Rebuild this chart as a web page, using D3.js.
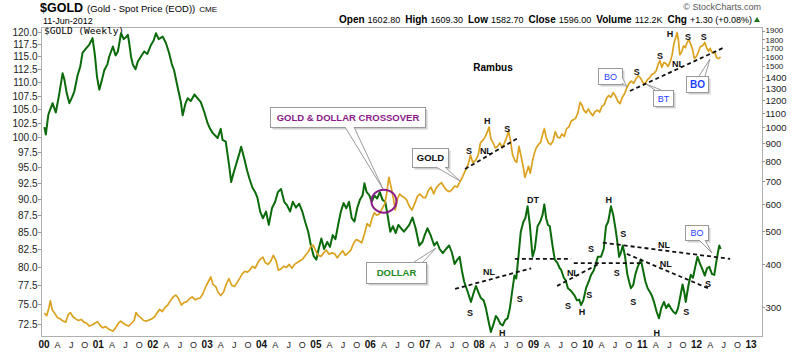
<!DOCTYPE html>
<html>
<head>
<meta charset="utf-8">
<script src="https://cdn.jsdelivr.net/npm/d3@7"></script>
<style>
  body { margin: 0; background: #fff; }
  svg { display: block; font-family: "Liberation Sans", Arial, sans-serif; }
</style>
</head>
<body>
<script>
// ---- data: months since Jan 2000, weekly-ish readings ----
var dollarMonths = [0.1,0.4,0.95,1.4,1.9,2.6,3.3,4.1,4.5,5.0,5.6,6.2,6.7,7.4,8.0,8.5,9.2,10.0,10.7,11.2,11.7,
  12.2,12.8,13.3,14.0,14.4,15.2,15.8,16.3,17.0,17.6,18.2,18.5,18.8,19.2,19.6,20.2,20.7,21.4,22.1,22.8,23.6,
  24.2,24.7,25.3,26.2,26.9,27.6,28.2,28.7,29.5,30.2,30.6,31.2,31.7,32.4,33.2,33.9,34.6,35.4,
  36.1,36.6,37.2,38.3,39.0,39.4,40.1,40.9,41.3,41.8,42.4,43.0,43.5,44.2,44.8,45.3,46.0,46.6,47.1,47.7,
  48.3,49.0,49.6,50.3,51.0,51.6,52.3,53.0,53.6,54.3,54.9,55.6,56.3,57.0,57.6,58.3,58.9,59.5,
  60.1,60.6,61.2,61.8,62.5,63.1,63.7,64.3,64.9,65.5,66.1,66.7,67.3,67.9,68.5,69.1,69.7,70.3,70.7,71.2,71.8,
  72.3,72.9,73.5,74.1,74.7,75.3,75.8,76.4,77.0,77.6,78.2,78.8,79.4,80.0,80.6,81.3,82.0,82.8,83.5,
  84.0,84.6,85.3,86.1,86.7,87.3,88.0,88.7,89.4,90.0,90.6,91.2,91.7,92.2,92.7,93.1,93.5,94.2,94.8,95.3,95.9,
  96.4,97.0,97.5,98.1,98.6,99.2,99.7,100.1,100.7,101.2,101.8,102.3,102.8,103.4,103.8,104.2,104.7,105.2,105.8,106.2,106.7,107.2,107.8,108.3,
  108.9,109.5,110.0,110.4,110.8,111.2,111.6,112.2,112.7,113.3,113.8,114.1,114.7,115.1,115.6,116.2,117.0,117.6,118.1,118.5,119.0,119.6,
  120.2,120.7,121.3,121.8,122.2,122.9,123.5,124.0,124.5,125.1,125.6,126.2,126.6,126.9,127.3,127.7,128.2,128.7,129.1,129.5,130.0,130.5,131.0,131.7,
  132.2,132.7,133.2,133.8,134.2,134.6,135.2,135.7,136.2,136.8,137.3,137.8,138.3,138.9,139.4,139.9,140.4,140.9,141.3,141.6,142.2,142.7,143.2,143.7,
  144.2,144.7,145.3,145.8,146.3,146.8,147.4,147.9,148.3,148.7,149.0,149.3];
var dollarValues = [101.8,100.5,104.0,105.0,106.1,104.4,107.5,111.7,110.5,108.0,106.1,107.2,108.3,111.3,113.0,115.7,116.5,117.4,118.7,115.5,111.0,
  108.6,110.5,112.3,113.5,115.0,117.0,115.2,116.0,119.7,118.5,119.0,119.4,117.7,115.0,113.4,112.5,114.0,115.0,116.0,115.5,117.3,
  118.2,119.7,118.5,119.0,117.7,115.7,113.5,112.3,109.0,106.3,103.9,106.0,107.0,106.5,107.7,107.0,106.3,104.4,
  102.5,101.6,100.8,99.9,101.5,99.6,99.3,95.0,92.6,94.0,95.5,97.0,98.4,96.4,94.5,93.2,91.7,91.0,90.1,88.0,
  87.0,88.0,86.0,88.5,89.5,91.0,91.5,89.5,89.0,88.0,89.5,88.6,89.2,88.0,86.5,85.0,83.0,81.5,
  81.0,82.5,84.0,82.5,83.5,82.8,84.5,83.9,86.0,88.0,89.3,88.5,89.5,87.0,86.5,88.5,89.8,90.5,92.4,91.0,90.5,
  89.5,90.5,90.0,91.0,89.8,89.5,87.5,85.0,85.8,84.8,86.0,85.5,85.0,85.5,86.0,87.1,85.5,83.0,83.5,
  84.5,85.5,84.5,83.0,83.5,82.5,81.9,82.5,83.0,82.0,80.4,81.0,81.4,79.5,78.0,77.3,76.6,75.3,76.5,77.4,76.5,
  75.8,75.5,74.5,72.8,71.5,72.5,73.5,73.2,72.5,72.3,73.0,73.2,74.5,77.1,78.8,78.4,81.5,85.0,86.5,87.0,88.8,86.0,81.4,82.5,
  85.8,86.5,87.5,89.1,87.0,86.0,85.8,83.0,81.0,80.5,79.8,79.6,78.5,78.2,77.1,76.8,76.2,75.5,75.6,74.9,75.5,77.1,
  78.0,78.9,79.5,80.5,81.4,81.4,82.5,85.8,86.5,88.8,87.5,85.0,83.0,81.4,82.0,83.0,81.5,79.0,78.0,77.1,77.5,79.0,80.0,81.0,
  79.5,78.0,77.1,76.5,76.0,75.3,74.0,73.2,74.5,75.3,74.5,75.0,74.5,74.0,73.8,74.5,76.0,77.6,76.5,75.3,77.5,78.9,78.5,80.0,
  81.4,80.5,79.6,78.8,79.8,80.0,79.0,78.9,80.5,82.0,83.0,82.5];

var goldMonths = [0.1,0.6,1.1,1.4,1.8,2.4,3.0,3.6,4.2,4.8,5.3,5.8,6.4,7.0,7.6,8.2,8.8,9.4,10.0,10.6,11.2,11.8,
  12.4,13.0,13.6,14.2,14.7,15.2,15.8,16.4,16.9,17.5,18.1,18.7,19.3,19.9,20.3,20.8,21.4,22.0,22.6,23.2,23.8,
  24.4,25.0,25.5,26.1,26.7,27.3,27.9,28.5,29.1,29.7,30.3,30.9,31.5,32.1,32.7,33.3,33.9,34.5,35.1,35.7,
  36.2,36.8,37.3,37.9,38.4,39.0,39.6,40.2,40.8,41.4,42.0,42.6,43.2,43.7,44.3,44.9,45.4,46.0,46.6,47.2,47.8,
  48.3,48.8,49.4,50.0,50.6,51.2,51.7,52.3,52.9,53.5,54.1,54.7,55.3,55.9,56.5,57.1,57.7,58.3,58.9,59.4,59.9,
  60.5,61.1,61.7,62.3,62.9,63.5,64.1,64.7,65.3,65.9,66.5,67.1,67.7,68.3,68.9,69.5,70.1,70.7,71.3,71.9,
  72.4,72.9,73.4,74.0,74.6,75.2,75.6,76.1,76.6,77.1,77.5,78.0,78.5,79.0,79.5,80.0,80.6,81.2,81.8,82.4,83.0,83.6,
  84.2,84.8,85.4,86.0,86.5,87.1,87.7,88.3,88.9,89.5,90.1,90.6,91.2,91.8,92.4,93.0,93.6,94.1,94.6,95.2,95.8,
  96.3,96.8,97.4,97.9,98.2,98.6,99.1,99.6,100.1,100.6,101.1,101.6,102.1,102.5,102.9,103.4,103.9,104.3,104.8,105.3,105.8,106.1,106.5,106.9,107.3,107.8,108.2,108.6,
  109.1,109.6,110.0,110.4,110.8,111.3,111.8,112.3,112.8,113.3,113.8,114.3,114.8,115.3,115.8,116.3,116.8,117.3,117.8,118.3,118.7,119.1,119.6,
  120.1,120.6,121.1,121.6,122.1,122.6,123.1,123.6,124.1,124.6,125.1,125.6,126.1,126.6,127.1,127.6,128.1,128.6,129.1,129.6,130.1,130.6,131.1,131.6,
  132.1,132.6,133.1,133.6,134.1,134.6,135.1,135.5,135.9,136.3,136.8,137.2,137.7,138.2,138.6,139.0,139.4,139.7,140.0,140.3,140.7,141.1,141.5,141.9,142.3,142.7,143.1,143.5,
  143.9,144.3,144.8,145.3,145.8,146.2,146.6,147.0,147.5,148.0,148.4,148.8,149.3];
var goldValues = [289,284,300,314,296,288,280,278,274,272,285,290,282,278,275,277,272,270,265,267,270,273,
  266,262,264,260,258,256,262,270,274,270,267,265,270,275,290,284,280,275,274,276,278,
  282,290,296,292,300,305,314,322,326,318,305,310,312,318,322,316,318,320,330,345,
  355,368,350,345,332,325,332,350,364,348,345,354,365,375,382,380,385,395,390,405,415,
  420,405,400,408,425,410,385,388,395,392,400,390,400,405,410,415,425,435,452,455,440,
  425,422,432,440,428,432,430,418,428,438,425,432,440,460,472,468,462,490,525,515,
  545,565,555,560,580,600,640,715,670,620,575,620,640,630,625,615,590,575,600,630,640,625,
  625,655,670,640,665,680,690,670,655,650,660,675,670,695,720,750,780,830,790,800,830,
  900,915,940,975,1000,925,900,870,880,900,870,900,935,975,920,830,800,790,880,820,760,715,740,770,735,800,840,870,
  890,905,950,990,935,900,890,910,970,935,930,955,940,990,1000,1040,1050,1060,1100,1180,1160,1120,1100,
  1130,1100,1080,1110,1120,1105,1150,1160,1210,1235,1220,1260,1230,1190,1170,1220,1250,1300,1340,1360,1340,1380,1410,1390,
  1350,1330,1370,1390,1420,1430,1460,1520,1560,1490,1540,1530,1500,1550,1620,1750,1820,1880,1780,1620,1650,1720,1700,1760,1790,1740,1680,1580,
  1600,1640,1710,1720,1760,1700,1660,1690,1640,1650,1590,1580,1596];

var dollarTicks = [72.5,75,77.5,80,82.5,85,87.5,90,92.5,95,97.5,100,102.5,105,107.5,110,112.5,115,117.5,120];
var goldTicks = [300,400,500,600,700,800,900,1000,1100,1200,1300,1400,1500,1600,1700,1800,1900];
var yearLabels = ["00","01","02","03","04","05","06","07","08","09","10","11","12","13"];
var quarterLabels = ["A","J","O"];

// chart annotations (month, value) on the series' own axis
var trendLines = [
  {axis: "gold",   m1: 92.9,  v1: 756,  m2: 104.6, v2: 930},
  {axis: "gold",   m1: 129.3, v1: 1273, m2: 149.8, v2: 1696},
  {axis: "dollar", m1: 90.7,  v1: 77.0, m2: 107.5, v2: 79.8},
  {axis: "dollar", m1: 103.9, v1: 81.1, m2: 116.3, v2: 81.1},
  {axis: "dollar", m1: 113.2, v1: 77.4, m2: 122.7, v2: 80.5},
  {axis: "dollar", m1: 116.9, v1: 80.5, m2: 132.1, v2: 80.5},
  {axis: "dollar", m1: 123.3, v1: 83.4, m2: 151.4, v2: 81.1},
  {axis: "dollar", m1: 128.6, v1: 81.8, m2: 146.9, v2: 77.0}
];
var patternLabels = [
  {axis: "gold", m: 93.8, v: 853, t: "S"}, {axis: "gold", m: 97.8, v: 1042, t: "H"},
  {axis: "gold", m: 102.2, v: 988, t: "S"}, {axis: "gold", m: 97.5, v: 853, t: "NL"},
  {axis: "gold", m: 138.1, v: 1862, t: "H"}, {axis: "gold", m: 142.1, v: 1837, t: "S"},
  {axis: "gold", m: 145.6, v: 1837, t: "S"}, {axis: "gold", m: 135.9, v: 1608, t: "S"},
  {axis: "gold", m: 130.8, v: 1454, t: "S"}, {axis: "gold", m: 139.9, v: 1534, t: "NL"},
  {axis: "dollar", m: 107.9, v: 89.8, t: "DT"}, {axis: "dollar", m: 98.2, v: 79.3, t: "NL"},
  {axis: "dollar", m: 94.0, v: 74.0, t: "S"}, {axis: "dollar", m: 105.0, v: 75.7, t: "S"},
  {axis: "dollar", m: 101.1, v: 71.4, t: "H"}, {axis: "dollar", m: 124.6, v: 89.8, t: "H"},
  {axis: "dollar", m: 127.8, v: 84.7, t: "S"}, {axis: "dollar", m: 120.7, v: 82.6, t: "S"},
  {axis: "dollar", m: 116.7, v: 79.2, t: "NL"}, {axis: "dollar", m: 136.8, v: 83.2, t: "NL"},
  {axis: "dollar", m: 137.2, v: 80.4, t: "NL"}, {axis: "dollar", m: 115.6, v: 74.9, t: "S"},
  {axis: "dollar", m: 118.7, v: 74.1, t: "H"}, {axis: "dollar", m: 120.3, v: 76.3, t: "S"},
  {axis: "dollar", m: 126.4, v: 79.2, t: "S"}, {axis: "dollar", m: 130.0, v: 75.4, t: "S"},
  {axis: "dollar", m: 141.7, v: 74.1, t: "S"}, {axis: "dollar", m: 146.5, v: 77.7, t: "S"},
  {axis: "dollar", m: 135.2, v: 71.4, t: "H"}
];

var width = 800, height = 352;
var plot = {left: 41, right: 762, top: 27, bottom: 336};

var svg = d3.select("body").append("svg")
  .attr("width", width)
  .attr("height", height);

var x = d3.scaleLinear().domain([0, 156]).range([44, 751]);
var yDollar = d3.scaleLog().domain([71.0, 121.0]).range([336, 27]);
var yGold = d3.scaleLog().domain([248, 1951]).range([336, 27]);
function yOf(axis) { return axis == "gold" ? yGold : yDollar; }

// header
var head = svg.append("text").attr("x", 40).attr("y", 12);
head.append("tspan").attr("font-weight", "bold").attr("font-size", "12.5px").text("$GOLD");
head.append("tspan").attr("font-size", "9.5px").attr("dx", 4).text("(Gold - Spot Price (EOD))");
head.append("tspan").attr("font-size", "8px").attr("dx", 4).text("CME");

svg.append("text").attr("x", 43).attr("y", 24).attr("font-size", "9px").text("11-Jun-2012");

svg.append("text").attr("x", 761).attr("y", 10).attr("text-anchor", "end")
  .attr("font-size", "9px").attr("fill", "#555").text("\u00A9 StockCharts.com");

var quote = [["Open", "1602.80"], ["High", "1609.30"], ["Low", "1582.70"], ["Close", "1596.00"],
             ["Volume", "112.2K"], ["Chg", "+1.30 (+0.08%)"]];
var qt = svg.append("text").attr("x", 752).attr("y", 23).attr("text-anchor", "end");
quote.forEach(function (q, i) {
  qt.append("tspan").attr("font-weight", "bold").attr("font-size", "10px")
    .attr("dx", i == 0 ? 0 : 5).text(q[0]);
  qt.append("tspan").attr("font-size", "9px").attr("dx", 3).text(q[1]);
});
svg.append("path").attr("d", "M754,22 L760,22 L757,17 Z").attr("fill", "#1a7a1a");

// frame
svg.append("rect")
  .attr("x", plot.left + 0.5).attr("y", plot.top + 0.5)
  .attr("width", plot.right - plot.left).attr("height", plot.bottom - plot.top)
  .attr("fill", "none").attr("stroke", "#b0b0b0");

// left axis (dollar)
var leftAxis = svg.append("g");
dollarTicks.forEach(function (t) {
  var yy = Math.round(yDollar(t)) + 0.5;
  leftAxis.append("line").attr("x1", 38).attr("x2", 41).attr("y1", yy).attr("y2", yy).attr("stroke", "#999");
  leftAxis.append("text").attr("x", 37.5).attr("y", yy + 3.5).attr("text-anchor", "end")
    .attr("font-size", "10px").attr("fill", "#222").text(t.toFixed(1));
});

// right axis (gold) - the top labels are packed tight, as in the original
var rightAxis = svg.append("g");
goldTicks.forEach(function (t) {
  var yy = Math.round(yGold(t)) + 0.5;
  var small = t >= 1500;
  var nudge = t == 1900 ? -1 : (t == 1800 ? 0.5 : 0);
  rightAxis.append("line").attr("x1", 762).attr("x2", 765).attr("y1", yy).attr("y2", yy).attr("stroke", "#999");
  rightAxis.append("text").attr("x", 765.5).attr("y", yy + (small ? 2.8 : 3.3) + nudge)
    .attr("font-size", small ? "8px" : "9.5px").attr("fill", "#222").text(t);
});

// bottom axis labels
var bottom = svg.append("g");
yearLabels.forEach(function (yl, i) {
  bottom.append("text").attr("x", x(i * 12)).attr("y", 348).attr("text-anchor", "middle")
    .attr("font-size", "10px").attr("font-weight", "bold").attr("fill", "#111").text(yl);
  if (i < yearLabels.length - 1) {
    quarterLabels.forEach(function (q, j) {
      bottom.append("text").attr("x", x(i * 12 + (j + 1) * 3)).attr("y", 348).attr("text-anchor", "middle")
        .attr("font-size", "9px").attr("fill", "#222").text(q);
    });
  }
});

svg.append("text").attr("x", 44).attr("y", 34)
  .attr("font-family", "'DejaVu Sans Mono', monospace").attr("font-size", "9.5px")
  .text("$GOLD (Weekly)");

// series
svg.append("clipPath").attr("id", "clip").append("rect")
  .attr("x", plot.left + 1).attr("y", plot.top + 1)
  .attr("width", plot.right - plot.left - 1).attr("height", plot.bottom - plot.top - 1);

var series = svg.append("g").attr("clip-path", "url(#clip)");

var dollarLine = d3.line()
  .x(function (d, i) { return x(dollarMonths[i]); })
  .y(function (d) { return yDollar(d); });
var goldLine = d3.line()
  .x(function (d, i) { return x(goldMonths[i]); })
  .y(function (d) { return yGold(d); });

series.append("path").datum(dollarValues).attr("d", dollarLine)
  .attr("fill", "none").attr("stroke", "#0b6b0b").attr("stroke-width", 2).attr("stroke-linejoin", "round");
series.append("path").datum(goldValues).attr("d", goldLine)
  .attr("fill", "none").attr("stroke", "#daa21f").attr("stroke-width", 1.7).attr("stroke-linejoin", "round");

// dashed neck lines
svg.selectAll(".trend").data(trendLines).enter().append("line")
  .attr("x1", function (d) { return x(d.m1); })
  .attr("y1", function (d) { return yOf(d.axis)(d.v1); })
  .attr("x2", function (d) { return x(d.m2); })
  .attr("y2", function (d) { return yOf(d.axis)(d.v2); })
  .attr("stroke", "#111").attr("stroke-width", 1.8).attr("stroke-dasharray", "4,3");

// pattern letters
svg.selectAll(".pl").data(patternLabels).enter().append("text")
  .attr("x", function (d) { return x(d.m); })
  .attr("y", function (d) { return yOf(d.axis)(d.v) + 3.5; })
  .attr("text-anchor", "middle").attr("font-size", "9px").attr("font-weight", "bold")
  .attr("fill", "#111").text(function (d) { return d.t; });

svg.append("text").attr("x", 493).attr("y", 71).attr("text-anchor", "middle")
  .attr("font-size", "10px").attr("font-weight", "bold").text("Rambus");

// crossover circle
svg.append("ellipse").attr("cx", x(75.0)).attr("cy", yDollar(89.6))
  .attr("rx", 12.5).attr("ry", 11.5).attr("fill", "none")
  .attr("stroke", "#8b1a8b").attr("stroke-width", 2);

// callouts (pixel layout)
var callouts = [
  {t: "GOLD & DOLLAR CROSSOVER", c: "#8a1a8a", b: true, fs: 9.5, box: [270, 107, 155, 20], base: [[345, 127], [354, 127]], tip: [383, 189]},
  {t: "GOLD", c: "#111", b: true, fs: 9.5, box: [412, 148, 36, 19], base: [[436, 167], [445, 167]], tip: [460, 181]},
  {t: "DOLLAR", c: "#1f8a1f", b: true, fs: 9.5, box: [366, 262, 60, 21], base: [[414, 262], [423, 262]], tip: [436, 248]},
  {t: "BO", c: "#1f3fff", b: false, fs: 9, box: [598, 68, 24, 16], base: [[622, 77], [622, 83]], tip: [627, 87]},
  {t: "BT", c: "#1f3fff", b: false, fs: 9, box: [653, 90, 20, 16], base: [[655, 90], [661, 90]], tip: [646, 84]},
  {t: "BO", c: "#1f3fff", b: true, fs: 10, box: [686, 76, 22, 16], base: [[699, 76], [705, 76]], tip: [710, 59]},
  {t: "BO", c: "#1f3fff", b: false, fs: 9, box: [685, 225, 23, 15], base: [[699, 240], [705, 240]], tip: [712, 253]}
];
callouts.forEach(function (c) {
  var g = svg.append("g");
  var bx = c.box[0] + 0.5, by = c.box[1] + 0.5, bw = c.box[2], bh = c.box[3];
  g.append("rect").attr("x", bx + 2).attr("y", by + 2).attr("width", bw).attr("height", bh).attr("fill", "#d0d0d0");
  g.append("rect").attr("x", bx).attr("y", by).attr("width", bw).attr("height", bh)
    .attr("fill", "#fff").attr("stroke", "#9a9a9a");
  g.append("path").attr("d", "M" + c.base[0] + "L" + c.tip + "L" + c.base[1] + "Z").attr("fill", "#fff");
  g.append("line").attr("x1", c.base[0][0]).attr("y1", c.base[0][1]).attr("x2", c.tip[0]).attr("y2", c.tip[1]).attr("stroke", "#9a9a9a");
  g.append("line").attr("x1", c.base[1][0]).attr("y1", c.base[1][1]).attr("x2", c.tip[0]).attr("y2", c.tip[1]).attr("stroke", "#9a9a9a");
  g.append("text").attr("x", bx + bw / 2).attr("y", by + bh / 2 + c.fs * 0.36)
    .attr("text-anchor", "middle").attr("font-size", c.fs + "px")
    .attr("font-weight", c.b ? "bold" : "normal").attr("fill", c.c).text(c.t);
});
</script>
</body>
</html>
